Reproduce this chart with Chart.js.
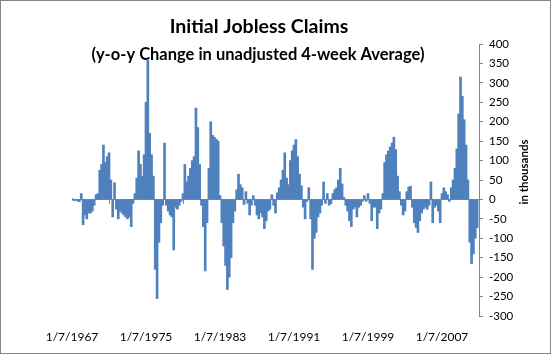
<!DOCTYPE html>
<html>
<head>
<meta charset="utf-8">
<script src="https://cdn.jsdelivr.net/npm/chart.js@4.4.1/dist/chart.umd.min.js"></script>
<style>
  html, body { margin: 0; padding: 0; background: #fff; }
</style>
</head>
<body>
<canvas id="myChart" width="551" height="354"></canvas>
<script>
const titleText = 'Initial Jobless Claims';
const subtitleText = '(y-o-y Change in unadjusted 4-week Average)';
const yTitle = 'in thousands';

// one value every 0.2 year, starting 1/7/1967
const startYear = 1967;
const step = 0.2;
const claimsChange = [
    2, -3, -2, -4, -6, 15, -65, -40, -50, -35,
    -35, -30, -15, 12, 15, 75, 90, 140, 95, 110,
    120, 50, -45, 43, -25, -50, -30, -35, -40, -45,
    -50, -45, -70, -10, 15, 55, 125, 90, 60, 115,
    250, 358, 170, 115, 60, -180, -255, -110, -60, -15,
    145, -15, -30, -40, -45, -130, -20, -25, -15, -5,
    15, 90, 45, 60, 80, 100, 110, 235, 185, 90,
    -15, -70, -184, -60, 80, 200, 165, 160, 155, 150,
    10, -60, -120, -170, -232, -200, -150, -60, -30, 25,
    65, 38, 30, -13, 20, -10, -40, -15, 10, -15,
    -40, -50, -35, -45, -75, -55, -30, -25, 12, -15,
    -35, 17, 30, 50, 75, 120, 55, 38, 100, 125,
    140, 154, 110, 65, 35, -20, -50, -5, 30, -50,
    -180, -100, -85, -45, -35, -15, 45, -10, 15, -15,
    -10, 15, 25, 30, 50, 80, 40, 5, -15, -30,
    -55, -70, -25, -20, -45, -20, -15, -5, 10, -5,
    15, -10, -55, -20, -20, -75, -35, -25, 15, 95,
    115, 125, 135, 145, 160, 128, 60, 20, -15, -40,
    -30, 20, 32, 34, -20, -60, -72, -85, -55, -35,
    -25, -20, -25, -15, 45, -60, -20, -15, -30, -60,
    15, 30, 20, 12, -5, 30, 50, 80, 130, 220,
    315, 265, 205, 140, 50, -110, -165, -140, -100, -73
];

const tickYears = [1967, 1975, 1983, 1991, 1999, 2007];
const tickLabels = ['1/7/1967', '1/7/1975', '1/7/1983', '1/7/1991', '1/7/1999', '1/7/2007'];

const setYearTicks = s => { s.ticks = tickYears.map(v => ({ value: v })); };

const frame = {
    id: 'frame',
    afterDraw(chart) {
        const c = chart.ctx;
        c.save();
        c.fillStyle = '#000';
        c.textAlign = 'center';
        c.textBaseline = 'alphabetic';
        c.font = 'bold 19.5px Lato';
        c.fillText(titleText, 259, 33);
        c.font = 'bold 16.5px Lato';
        c.fillText(subtitleText, 258, 60);
        c.translate(524, 172);
        c.rotate(-Math.PI / 2);
        c.textBaseline = 'middle';
        c.font = 'bold 11.5px Lato';
        c.fillText(yTitle, 0, 0);
        c.restore();

        c.save();
        c.strokeStyle = '#868686';
        c.lineWidth = 1;
        c.strokeRect(0.5, 0.5, 550, 353);
        c.restore();
    }
};

const ctx = document.getElementById('myChart').getContext('2d');

new Chart(ctx, {
    type: 'bar',
    data: {
        datasets: [{
            data: claimsChange.map((v, i) => ({ x: startYear + i * step, y: v })),
            backgroundColor: '#4F81BD',
            borderWidth: 0,
            barThickness: 2
        }]
    },
    options: {
        responsive: false,
        animation: false,
        layout: { padding: { left: 72, top: 44, right: 22, bottom: 0 } },
        plugins: {
            legend: { display: false },
            tooltip: { enabled: false }
        },
        scales: {
            x: {
                type: 'linear',
                min: 1967,
                max: 2011,
                offset: false,
                afterBuildTicks: setYearTicks,
                grid: { display: false, drawTicks: false },
                border: { display: false },
                ticks: {
                    autoSkip: false,
                    maxRotation: 0,
                    padding: 14,
                    color: '#000',
                    font: { family: 'Lato', size: 12 },
                    callback: (v, i) => tickLabels[i]
                },
                afterFit: s => { s.height = 38; }
            },
            x2: {
                type: 'linear',
                min: 1967,
                max: 2011,
                offset: false,
                position: { y: 0 },
                z: 1,
                afterBuildTicks: setYearTicks,
                ticks: { display: false },
                grid: { drawOnChartArea: false, drawTicks: true, tickLength: 4, color: '#868686' },
                border: { color: '#868686', width: 1 }
            },
            y: {
                position: 'right',
                min: -300,
                max: 400,
                ticks: {
                    stepSize: 50,
                    padding: 6,
                    color: '#000',
                    font: { family: 'Lato', size: 11.5 }
                },
                grid: { drawOnChartArea: false, drawTicks: true, tickLength: 4, color: '#868686' },
                border: { color: '#868686' },
                afterFit: s => { s.width = 50; }
            }
        }
    },
    plugins: [frame]
});
</script>
</body>
</html>
